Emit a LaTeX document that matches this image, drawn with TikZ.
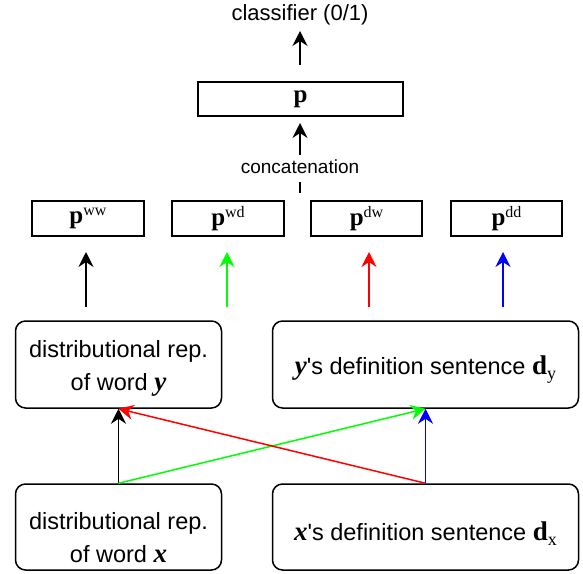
\documentclass[tikz,border=0pt]{standalone}
\usepackage{fontspec}
\setmainfont{Liberation Serif}
\setsansfont{Liberation Sans}[Ligatures=TeXOff]
\usetikzlibrary{arrows.meta}
\definecolor{myred}{RGB}{255,0,0}
\definecolor{mygreen}{RGB}{0,255,0}
\definecolor{myblue}{RGB}{0,0,255}
\newcommand{\pbold}[1]{{\fontsize{25}{25}\selectfont\bfseries p}\raisebox{8pt}{\fontsize{16}{16}\selectfont #1}}
\newcommand{\vbi}[1]{{\rmfamily\fontsize{27}{27}\selectfont\bfseries\itshape #1}}
\newcommand{\vd}[1]{{\rmfamily\fontsize{27}{27}\selectfont\bfseries d}\raisebox{-5pt}{\rmfamily\fontsize{18}{18}\selectfont #1}}
\begin{document}
\begin{tikzpicture}[x=1pt,y=-1pt,
  sbox/.style={draw, line width=1.5pt, minimum height=35pt, inner sep=0pt, font=\rmfamily},
  rbox/.style={draw, line width=1.5pt, rounded corners=10pt, inner sep=0pt},
  txt/.style={inner sep=0pt, align=center, font=\sffamily\fontsize{23.5}{33}\selectfont},
  arr/.style={line width=1.5pt, -{Stealth[length=15pt,width=15pt,inset=5pt]}},
  lbl/.style={inner sep=0pt, font=\sffamily}]
\useasboundingbox (0,0) rectangle (583,573);
% top
\node[lbl, font=\sffamily\fontsize{22}{22}\selectfont] (cls) at (300,15) {classifier (0/1)};
\node[sbox, minimum width=205pt, minimum height=34pt] (p) at (300.5,99) {{\fontsize{25}{25}\selectfont\bfseries p}};
\coordinate (clsA) at (300,65);
\coordinate (clsB) at (300,31);
\draw[arr] (clsA) -- (clsB);
\coordinate (catA) at (300,155);
\coordinate (catB) at (300,123);
\draw[arr] (catA) -- (catB);
\node[lbl, font=\sffamily\fontsize{19}{19}\selectfont] (cat) at (300,167) {concatenation};
\coordinate (dashA) at (300,182);
\coordinate (dashB) at (300,193);
\draw[line width=1.4pt] (dashA) -- (dashB);
% small boxes
\node[sbox, minimum width=112pt] (ww) at (88,218.5) {\pbold{ww}};
\node[sbox, minimum width=112pt] (wd) at (228,218.5) {\pbold{wd}};
\node[sbox, minimum width=111pt] (dw) at (366.5,218.5) {\pbold{dw}};
\node[sbox, minimum width=111pt] (dd) at (506.5,218.5) {\pbold{dd}};
% feature arrows
\coordinate (a1) at (86,307); \coordinate (b1) at (86,252);
\coordinate (a2) at (227,307); \coordinate (b2) at (227,252);
\coordinate (a3) at (369,307); \coordinate (b3) at (369,252);
\coordinate (a4) at (503,307); \coordinate (b4) at (503,252);
\draw[arr] (a1) -- (b1);
\draw[arr, mygreen] (a2) -- (b2);
\draw[arr, myred] (a3) -- (b3);
\draw[arr, myblue] (a4) -- (b4);
% big boxes
\node[rbox, minimum width=206pt, minimum height=87pt] (ry) at (118.5,364.5) {};
\node[txt] (ryt) at ([yshift=-4pt]ry.center)
  {distributional rep.\\of word \vbi{y}};
\node[rbox, minimum width=306pt, minimum height=87pt] (dy) at (425.5,364.5) {};
\node[txt] (dyt) at ([yshift=-5pt]dy.center)
  {\vbi{y}'s definition sentence \vd{y}};
\node[rbox, minimum width=206pt, minimum height=86pt] (rx) at (118.5,527) {};
\node[txt] (rxt) at ([yshift=-11pt]rx.center)
  {distributional rep.\\of word \vbi{x}};
\node[rbox, minimum width=306pt, minimum height=86pt] (dx) at (425.5,527) {};
\node[txt] (dxt) at ([yshift=-7pt]dx.center)
  {\vbi{x}'s definition sentence \vd{x}};
% connections
\draw[arr] (rx.north) -- (ry.south);
\draw[arr, mygreen] (rx.north) -- (dy.south);
\draw[arr, myred] (dx.north) -- (ry.south);
\draw[arr, myblue] (dx.north) -- (dy.south);
\end{tikzpicture}
\end{document}
